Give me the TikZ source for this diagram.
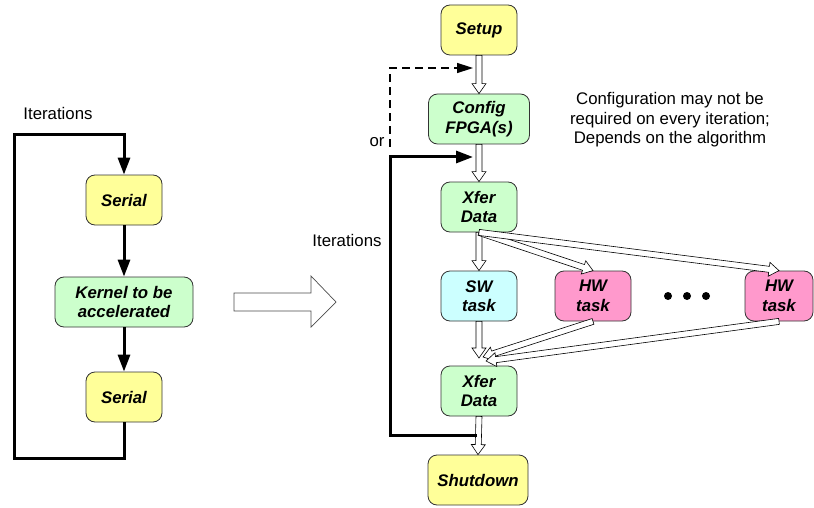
\documentclass[tikz,border=0pt]{standalone}
\usepackage{fontspec}
\setmainfont{Liberation Sans}
\usepackage{xcolor}
\usetikzlibrary{arrows.meta, calc, math}
\definecolor{myyellow}{RGB}{255,255,153}
\definecolor{mygreen}{RGB}{204,255,204}
\definecolor{mycyan}{RGB}{204,255,255}
\definecolor{mypink}{RGB}{255,153,204}

\newcommand{\hollowarrow}[2]{%
\draw[fill=white, line width=0.6pt, line join=miter]
  let \p1=(#1), \p2=(#2), \n1={atan2(\y2-\y1,\x2-\x1)}, \n2={veclen(\x2-\x1,\y2-\y1)} in
  [shift={(\p1)}, rotate=\n1]
  (0pt,-3pt) -- ({\n2-10pt},-3pt) -- ({\n2-10pt},-7pt) -- ({\n2*1pt},0pt)
  -- ({\n2-10pt},7pt) -- ({\n2-10pt},3pt) -- (0pt,3pt) -- cycle;}

\begin{document}
\begin{tikzpicture}[x=1pt, y=-1pt,
  box/.style={draw=black!80, line width=0.8pt, rounded corners=9pt, minimum height=50pt,
    align=center, inner sep=2pt, font=\fontsize{16.8}{19.5}\selectfont\bfseries\itshape},
  txt/.style={font=\fontsize{16.8}{19.5}\selectfont, align=center, inner sep=0pt},
  loopline/.style={line width=3pt, -{Triangle[length=17pt,width=12pt]}},
  dashline/.style={line width=1.5pt, dash pattern=on 8pt off 5pt, -{Triangle[length=16pt,width=10pt]}}]
\tikzmath{
\bw=76;
\xl=124;
\xr=479;
}
\useasboundingbox (0,0) rectangle (814,508);

% left: plain loop
\node[box, fill=myyellow, minimum width=\bw pt] (serial1) at (\xl,200) {Serial};
\node[box, fill=mygreen, minimum width=138pt] (kernel) at (\xl,302) {Kernel to be\\accelerated};
\node[box, fill=myyellow, minimum width=\bw pt] (serial2) at (\xl,397) {Serial};
\node[txt] (iterl) at (58,113) {Iterations};

\coordinate (lt) at (14,135);
\coordinate (lb) at (14,458);
\draw[loopline] (serial1) -- (kernel);
\draw[loopline] (kernel) -- (serial2);
\draw[loopline] (serial2.south) |- (lb) -- (lt) -| (serial1.north);

\draw[black!70, fill=white, line width=0.7pt] (234,293) -- (311,293) -- (311,276) -- (336,302)
  -- (311,327) -- (311,311) -- (234,311) -- cycle;

% right: accelerated flow
\node[box, fill=myyellow, minimum width=\bw pt] (setup) at (\xr,30) {Setup};
\node[box, fill=mygreen, minimum width=101pt] (config) at (\xr,119) {Config\\FPGA(s)};
\node[box, fill=mygreen, minimum width=\bw pt] (xfer1) at (\xr,207) {Xfer\\Data};
\node[box, fill=mycyan, minimum width=\bw pt] (sw) at (\xr,296) {SW\\task};
\node[box, fill=mypink, minimum width=\bw pt] (hw1) at (593,296) {HW\\task};
\node[box, fill=mypink, minimum width=68pt] (hw2) at (779,296) {HW\\task};
\node[box, fill=mygreen, minimum width=\bw pt] (xfer2) at (\xr,391) {Xfer\\Data};
\node[box, fill=myyellow, minimum width=100pt] (shutdown) at (478,480) {Shutdown};

\foreach \x in {668,687,706}
  \fill (\x,296) circle (4pt);

\node[txt] (iterr) at (347,240) {Iterations};
\node[txt] (or) at (377,142) {or};
\node[txt] (note) at (670,120) {Configuration may not be\\required on every iteration;\\Depends on the algorithm};

\coordinate (j0) at (479,358);
\coordinate (j1) at (483,357);
\coordinate (j2) at (486,361);

\hollowarrow{setup.south}{config.north}
\hollowarrow{config.south}{xfer1.north}
\hollowarrow{xfer1.south}{sw.north}
\hollowarrow{xfer1.south}{hw1.north}
\hollowarrow{xfer1.south}{hw2.north}
\hollowarrow{sw.south}{j0}
\hollowarrow{hw1.south}{j1}
\hollowarrow{hw2.south}{j2}
\hollowarrow{xfer2.south}{shutdown.north}

\coordinate (rb) at (477,435);
\coordinate (rt) at (390,157);
\coordinate (rtip) at (473,157);
\coordinate (db) at (390,147);
\coordinate (dtip) at (473,68);
\draw[loopline] (rb) -| (rt) -- (rtip);
\draw[dashline] (db) |- (dtip);
\end{tikzpicture}
\end{document}
